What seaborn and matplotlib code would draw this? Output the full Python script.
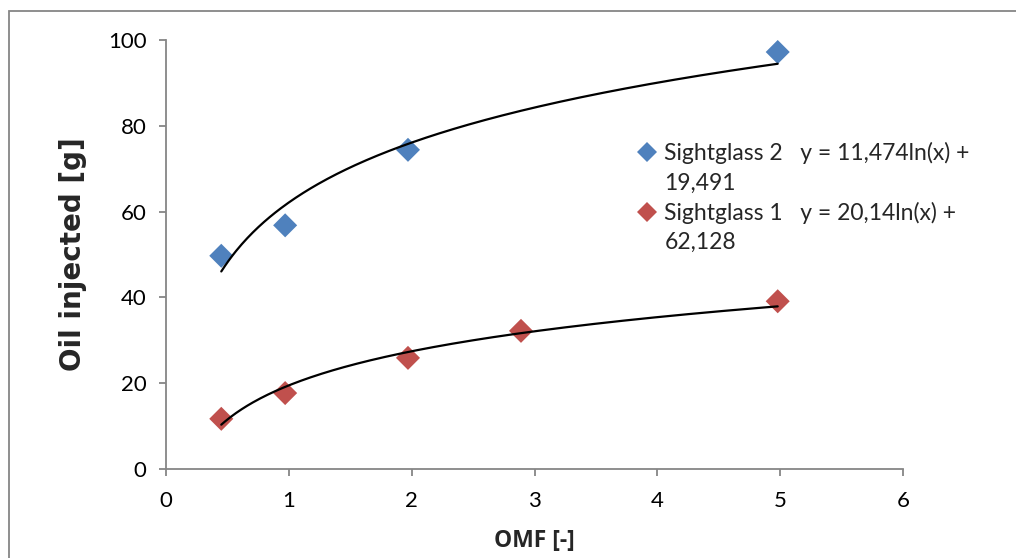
import numpy as np
import pandas as pd
import matplotlib
matplotlib.use("Agg")
import matplotlib.pyplot as plt
from matplotlib.lines import Line2D
from matplotlib.patches import Rectangle
import seaborn as sns

# ---- data ----
sg2_omf = [0.45, 0.97, 1.97, 4.98]
sg2_oil = [49.7, 56.8, 74.4, 97.2]
sg1_omf = [0.45, 0.97, 1.97, 2.89, 4.98]
sg1_oil = [11.7, 17.7, 25.9, 32.2, 39.1]

# log-trendline coefficients printed on the chart (slope, intercept)
fit_upper = [20.14, 62.128]   # curve through Sightglass 2 points
fit_lower = [11.474, 19.491]  # curve through Sightglass 1 points

legend_labels = ["Sightglass 2   y = 11,474ln(x) +", "19,491",
                 "Sightglass 1   y = 20,14ln(x) +", "62,128"]
x_ticks = [0, 1, 2, 3, 4, 5, 6]
y_ticks = [0, 20, 40, 60, 80, 100]

BLUE = "#4F81BD"
RED = "#C0504D"
GRAY = "#868686"

sns.set_theme(style="white")
plt.rcParams["font.family"] = ["Lato", "DejaVu Sans"]

df = pd.concat([
    pd.DataFrame({"OMF": sg2_omf, "Oil": sg2_oil, "series": "Sightglass 2"}),
    pd.DataFrame({"OMF": sg1_omf, "Oil": sg1_oil, "series": "Sightglass 1"}),
])

fig = plt.figure(figsize=(10.16, 5.58), dpi=100)
ax = fig.add_axes([166 / 1016, 1 - 469 / 558, (903 - 166) / 1016, (469 - 40) / 558])

# trendlines
for xs, coef in ((sg2_omf, fit_upper), (sg1_omf, fit_lower)):
    xg = np.linspace(min(xs), max(xs), 300)
    sns.lineplot(x=xg, y=coef[0] * np.log(xg) + coef[1], ax=ax, color="black",
                 linewidth=1.6, zorder=3, legend=False)

sns.scatterplot(data=df, x="OMF", y="Oil", hue="series",
                palette={"Sightglass 2": BLUE, "Sightglass 1": RED},
                marker="D", s=150, linewidth=0, ax=ax, zorder=2, legend=False)

ax.set_xlim(0, 6)
ax.set_ylim(0, 100)
ax.set_xticks(x_ticks)
ax.set_yticks(y_ticks)
ax.tick_params(axis="both", which="major", direction="out", length=5, width=1.3,
               color=GRAY, labelsize=16, labelcolor="black", left=True, bottom=True)
ax.tick_params(axis="y", pad=9)
ax.tick_params(axis="x", pad=11)
for side in ("top", "right"):
    ax.spines[side].set_visible(False)
for side in ("left", "bottom"):
    ax.spines[side].set_color(GRAY)
    ax.spines[side].set_linewidth(1.3)
ax.grid(False)

ax.set_xlabel("OMF [-]", fontsize=16.5, fontweight="bold", labelpad=13,
              family=["Open Sans", "DejaVu Sans"])
ax.set_ylabel("Oil injected [g]", fontsize=20, fontweight="bold", labelpad=15,
              family=["DejaVu Sans"])

handles = [
    Line2D([], [], marker="D", linestyle="none", color=BLUE, markersize=10, markeredgewidth=0),
    Line2D([], [], linestyle="none"),
    Line2D([], [], marker="D", linestyle="none", color=RED, markersize=10, markeredgewidth=0),
    Line2D([], [], linestyle="none"),
]
ax.legend(handles, legend_labels, loc="upper left",
          bbox_to_anchor=(638 / 1016, 1 - 142 / 558), bbox_transform=fig.transFigure,
          frameon=False, fontsize=16.5, handlelength=0.8, handletextpad=0.35,
          labelspacing=0.36, borderaxespad=0, borderpad=0)

fig.patches.append(Rectangle((8.5 / 1016, -0.1), 1.2, 1 - 11 / 558 + 0.1,
                             transform=fig.transFigure, fill=False,
                             edgecolor=GRAY, linewidth=1.3))

fig.savefig("out.png", dpi=100)
